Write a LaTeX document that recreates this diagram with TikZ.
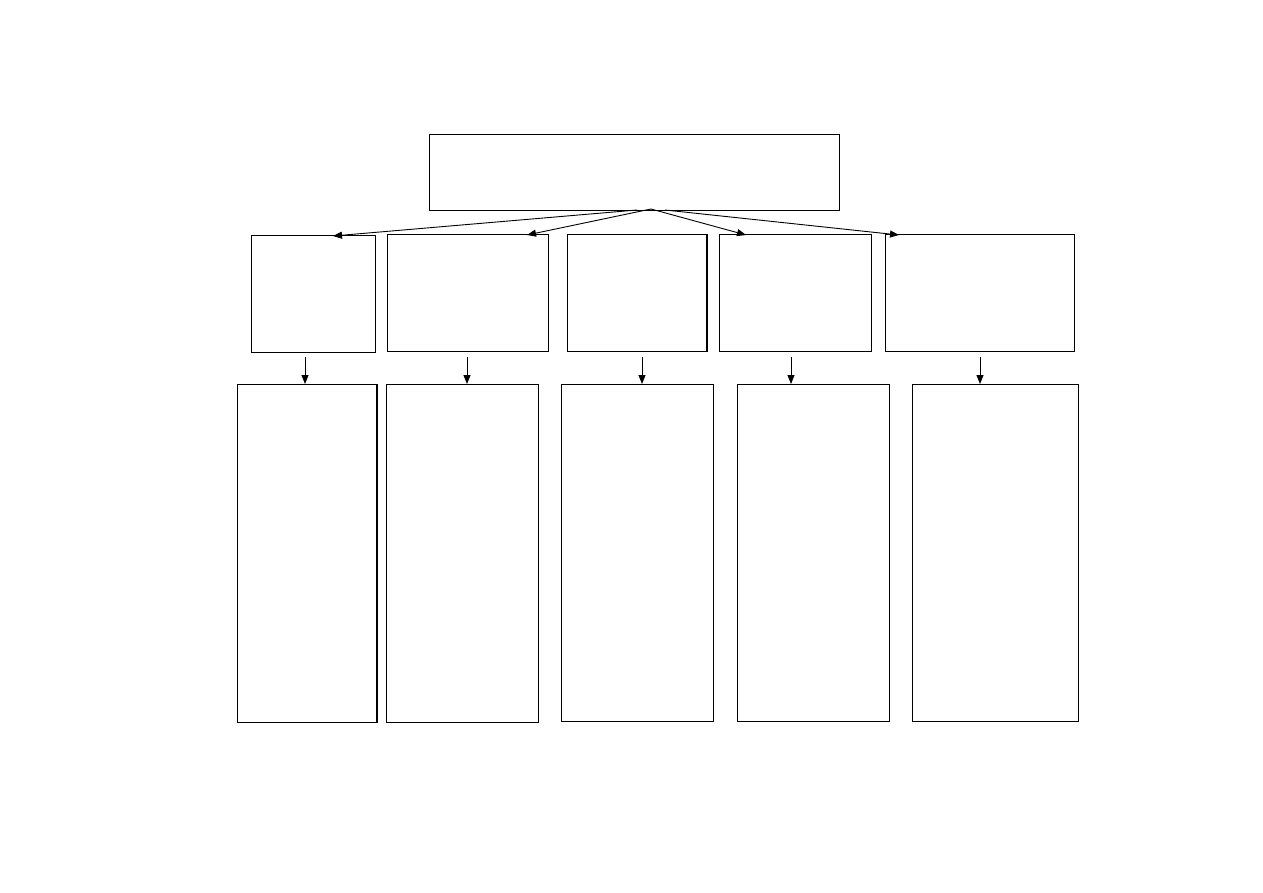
\documentclass[tikz,border=0pt]{standalone}
\usetikzlibrary{arrows.meta,calc}
\begin{document}
\begin{tikzpicture}[x=1pt,y=-1pt,
  box/.style={draw=black,line width=0.9pt,inner sep=0pt,anchor=north west},
  arr/.style={draw=black,line width=0.9pt,-{Triangle[length=9pt,width=7pt]}}]
\useasboundingbox (0,0) rectangle (1263,893);
% top
\node[box,minimum width=410pt,minimum height=76pt] (top) at (429,134) {};
% row 2
\node[box,minimum width=124pt,minimum height=117pt] (a1) at (251,235) {};
\node[box,minimum width=161pt,minimum height=117pt] (b1) at (387,234) {};
\node[box,minimum width=139pt,minimum height=117pt] (c1) at (567,234) {};
\node[box,minimum width=152pt,minimum height=117pt] (d1) at (719,234) {};
\node[box,minimum width=189pt,minimum height=117pt] (e1) at (885,234) {};
% row 3
\node[box,minimum width=139pt,minimum height=338pt] (a2) at (237,384) {};
\node[box,minimum width=152pt,minimum height=338pt] (b2) at (386,384) {};
\node[box,minimum width=152pt,minimum height=337pt] (c2) at (561,384) {};
\node[box,minimum width=152pt,minimum height=337pt] (d2) at (737,384) {};
\node[box,minimum width=166pt,minimum height=337pt] (e2) at (912,384) {};
% thicker right edges
\draw[line width=1.6pt] (c1.north east) -- (c1.south east);
\draw[line width=1.6pt] (a2.north east) -- (a2.south east);
% fan-out points
\coordinate (f0) at (637,210);
\coordinate (f1) at (651,209);
\coordinate (f2) at (665,210);
\coordinate (ta) at (333,236);
\coordinate (tb) at (527,235);
\coordinate (td) at (746,235);
\coordinate (te) at (899,235);
\draw[arr] (f0) -- (ta);
\draw[arr] (f1) -- (tb);
\draw[arr] (f1) -- (td);
\draw[arr] (f2) -- (te);
% vertical arrows
\foreach \n/\x in {a/305,b/467,c/642,d/791,e/980}{
  \coordinate (s\n) at (\x,357);
  \coordinate (t\n) at (\x,384);
  \draw[arr] (s\n) -- (t\n);
}
\end{tikzpicture}
\end{document}
